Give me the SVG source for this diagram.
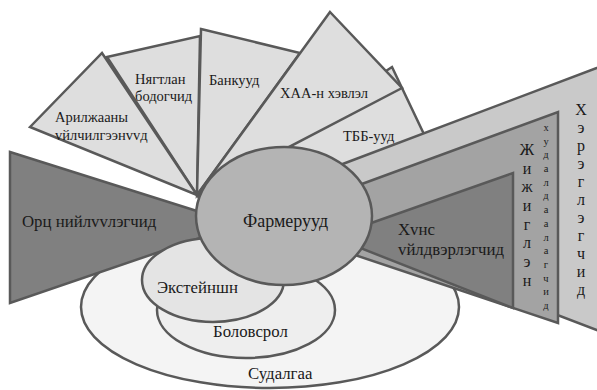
<svg xmlns="http://www.w3.org/2000/svg" width="597" height="390" viewBox="0 0 597 390">
<style>
.s{stroke:#595959;stroke-width:2.5;stroke-linejoin:miter}
.fan{fill:#dedede}
.dark{fill:#808080}
.mid{fill:#a3a3a3}
.light{fill:#c9c9c9}
.core{fill:#b4b4b4}
text{font-family:'Liberation Serif','DejaVu Serif',serif;fill:#1a1a1a}
.f{font-size:14.5px}
.b{font-size:16.8px}
.xl{font-size:18px}
.v{font-size:16px;text-anchor:middle}
.sv{font-size:10.5px;text-anchor:middle}
</style>
<rect width="597" height="390" fill="#ffffff"/>
<g id="sudalgaa">
<ellipse class="s" cx="270" cy="307" rx="189" ry="81" fill="#f4f4f4"/>
<text class="b" x="248" y="379">Судалгаа</text>
</g>
<g id="orts">
<polygon class="s dark" points="10,152 200,212 200,238 10,303"/>
<text class="b" x="22" y="227">Орц нийлvvлэгчид</text>
</g>
<g id="bolovsrol">
<ellipse class="s" cx="246" cy="310" rx="89" ry="48" fill="#eeeeee"/>
<text class="b" x="213" y="337">Боловсрол</text>
</g>
<g id="extension">
<ellipse class="s" cx="213" cy="280" rx="71" ry="42" fill="#e4e4e4"/>
<text class="b" x="157" y="293">Экстейншн</text>
</g>
<g id="nyagtlan">
<polygon class="s fan" points="107,57 200,36 197,195"/>
<text class="f" x="135" y="84">Нягтлан</text>
<text class="f" x="135" y="101">бодогчид</text>
</g>
<g id="tbb">
<polygon class="s fan" points="392,67 441,170 197,195"/>
<text class="f" x="343" y="141">ТББ-ууд</text>
</g>
<g id="arilj">
<polygon class="s fan" points="30,127 102,53 197,195"/>
<text class="f" x="55" y="122">Арилжааны</text>
<text class="f" x="55" y="140">vйлчилгээнvvд</text>
</g>
<g id="bank">
<polygon class="s fan" points="201,29 300,53 197,195"/>
<text class="f" x="209" y="85">Банкууд</text>
</g>
<g id="khaa">
<polygon class="s fan" points="330,12 402,88 197,195"/>
<text class="f" x="280" y="98">ХАА-н хэвлэл</text>
</g>
<g id="hereglegchid">
<polygon class="s light" points="340,165 610,63 610,335 340,232"/>
<text class="v"><tspan x="581" y="115">Х</tspan><tspan x="581" y="133">э</tspan><tspan x="581" y="151">р</tspan><tspan x="581" y="169">э</tspan><tspan x="581" y="187">г</tspan><tspan x="581" y="205">л</tspan><tspan x="581" y="223">э</tspan><tspan x="581" y="241">г</tspan><tspan x="581" y="259">ч</tspan><tspan x="581" y="277">и</tspan><tspan x="581" y="295">д</tspan></text>
</g>
<g id="jijiglen">
<polygon class="s mid" points="340,192 558,112 558,323 340,250"/>
<text class="v"><tspan x="527" y="155">Ж</tspan><tspan x="527" y="174">и</tspan><tspan x="527" y="192">ж</tspan><tspan x="527" y="211">и</tspan><tspan x="527" y="230">г</tspan><tspan x="527" y="248">л</tspan><tspan x="527" y="267">э</tspan><tspan x="527" y="286">н</tspan></text>
<text class="sv"><tspan x="546" y="131">х</tspan><tspan x="546" y="145">у</tspan><tspan x="546" y="158">д</tspan><tspan x="546" y="172">а</tspan><tspan x="546" y="186">л</tspan><tspan x="546" y="199">д</tspan><tspan x="546" y="213">а</tspan><tspan x="546" y="227">а</tspan><tspan x="546" y="241">л</tspan><tspan x="546" y="254">а</tspan><tspan x="546" y="268">г</tspan><tspan x="546" y="282">ч</tspan><tspan x="546" y="295">и</tspan><tspan x="546" y="309">д</tspan></text>
</g>
<g id="huns">
<polygon class="s dark" points="340,234 513,173 513,308 340,240"/>
<text class="b" x="398" y="235">Хvнс</text>
<text class="b" x="398" y="255">vйлдвэрлэгчид</text>
</g>
<g id="farmeruud">
<ellipse class="s core" cx="284" cy="216" rx="88" ry="69"/>
<text class="xl" x="243" y="227">Фармерууд</text>
</g>
<g id="connectors"></g>
</svg>
